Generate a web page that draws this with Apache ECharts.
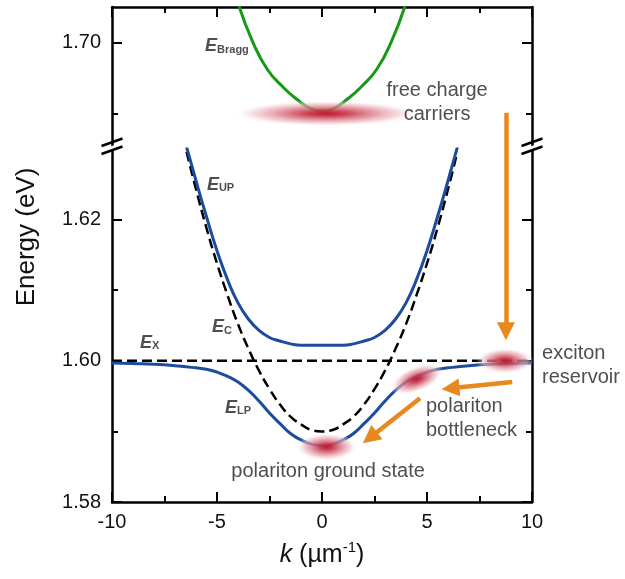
<!DOCTYPE html>
<html><head><meta charset="utf-8">
<script src="https://cdn.jsdelivr.net/npm/echarts@6/dist/echarts.min.js"></script>
<style>html,body{margin:0;padding:0;background:#fff}#c{width:625px;height:579px}</style>
</head><body><div id="c"></div>
<script>
// ---------- data ----------
const lpK = [-10,-9,-8,-7,-6,-5.5,-5,-4.5,-4,-3.5,-3,-2.5,-2,-1.5,-1,-0.5,0,0.5,1,1.5,2,2.5,3,3.5,4,4.5,5,5.5,6,7,8,9,10];
const lpE = [1.5997,1.5996,1.5995,1.5993,1.5990,1.5988,1.5984,1.5978,1.5970,1.5958,1.5943,1.5926,1.5911,1.5897,1.5888,1.5882,1.5880,1.5882,1.5888,1.5897,1.5911,1.5926,1.5943,1.5958,1.5970,1.5978,1.5984,1.5988,1.5990,1.5993,1.5995,1.5996,1.5997];
const cavK = [-6.45,-6,-5.5,-5,-4.5,-4,-3.5,-3,-2.5,-2,-1.5,-1,-0.5,0,0.5,1,1.5,2,2.5,3,3.5,4,4.5,5,5.5,6,6.45];
const upE = [1.6303,1.6255,1.6204,1.6156,1.6115,1.6082,1.6059,1.6043,1.6033,1.6028,1.6024,1.6022,1.6022,1.6022,1.6022,1.6022,1.6024,1.6028,1.6033,1.6043,1.6059,1.6082,1.6115,1.6156,1.6204,1.6255,1.6303];
const cE  = [1.6296,1.6243,1.6188,1.6138,1.6093,1.6052,1.6017,1.5986,1.5960,1.5938,1.5921,1.5910,1.5902,1.5900,1.5902,1.5910,1.5921,1.5938,1.5960,1.5986,1.6017,1.6052,1.6093,1.6138,1.6188,1.6243,1.6296];
const exK = [-10, 10];
const exE = [1.6000, 1.6000];
const braggK = [-3.95,-3.3,-2.6,-1.85,-1.2,-0.6,0,0.6,1.2,1.85,2.6,3.3,3.95];
const braggE = [1.7051,1.7001,1.6962,1.6937,1.6920,1.6908,1.6904,1.6908,1.6920,1.6937,1.6962,1.7001,1.7051];
// population blobs: free carriers (upper panel), exciton reservoir, bottleneck, ground state
const blobUpK = [0.22];
const blobUpE = [1.6900];
const blobLoK = [8.71, 4.51, 0.22];
const blobLoE = [1.6000, 1.5974, 1.5878];
// relaxation arrows [from, to]
const arrowVertK = [8.76, 8.76];
const arrowVertUpE = [1.6901, 1.685];
const arrowVertLoE = [1.6300, 1.6042];
const arrowDiag = [[[9.06,1.5970],[6.12,1.5961]], [[4.67,1.5947],[2.28,1.5891]]];
// axes ticks
const xMin = -10, xMax = 10, xStep = 5;
const yLoMin = 1.58, yLoMax = 1.63, yUpMin = 1.685, yUpMax = 1.705;
const yLoMajor = [1.58, 1.60, 1.62], yLoMinor = [1.59, 1.61];
const yUpMajor = [1.70], yUpMinor = [1.69];

// ---------- styling ----------
const FONT = "'Liberation Sans', Arial, sans-serif";
const AX = '#000';
const BLUE = '#1b4c9e', GREEN = '#169a16', ORANGE = '#e8891f', TXT = '#222';

function yAx(gridIndex, min, max, position, ticks, len, showLine, labels) {
  return {
    type: 'value', gridIndex, min, max, position,
    splitLine: {show: false},
    axisLine: {show: showLine, onZero: false, lineStyle: {color: AX, width: 2.5}},
    axisTick: {show: true, inside: true, length: len, customValues: ticks, lineStyle: {color: AX, width: 2}},
    axisLabel: labels ? {show: true, customValues: labels, formatter: v => v.toFixed(2),
      fontSize: 20, color: '#111', fontFamily: FONT, margin: 11} : {show: false}
  };
}
function xAx(gridIndex, position, labels) {
  const a = {
    type: 'value', gridIndex, min: xMin, max: xMax, interval: xStep, position,
    splitLine: {show: false},
    axisLine: {show: true, onZero: false, lineStyle: {color: AX, width: 2.5}},
    axisTick: {show: true, inside: true, length: 10, lineStyle: {color: AX, width: 2}},
    minorTick: {show: true, splitNumber: 2, length: 6, lineStyle: {color: AX, width: 2}},
    axisLabel: labels ? {show: true, fontSize: 20, color: '#111', fontFamily: FONT, margin: 10} : {show: false}
  };
  if (labels) {
    a.name = '{i|k} (µm{s|-1})';
    a.nameLocation = 'middle';
    a.nameGap = 38;
    a.nameTextStyle = {fontSize: 25, fontFamily: FONT, color: '#111', lineHeight: 30,
      rich: {i: {fontSize: 25, fontStyle: 'italic', fontFamily: FONT, color: '#111', lineHeight: 30},
             s: {fontSize: 15, fontFamily: FONT, color: '#111', verticalAlign: 'top', lineHeight: 18}}};
  }
  return a;
}
const zip = (a, b) => a.map((v, i) => [v, b[i]]);

const blobGrad = new echarts.graphic.RadialGradient(0.5, 0.5, 0.5, [
  {offset: 0, color: 'rgba(190,25,45,1)'},
  {offset: 0.22, color: 'rgba(200,55,75,0.92)'},
  {offset: 0.5, color: 'rgba(220,125,138,0.78)'},
  {offset: 0.75, color: 'rgba(238,190,198,0.6)'},
  {offset: 1, color: 'rgba(255,255,255,0)'}
]);
const blobUpStyle = [{w: 190, h: 26, rot: 0}];
const blobLoStyle = [{w: 58, h: 26, rot: 0}, {w: 56, h: 26, rot: 22}, {w: 62, h: 28, rot: 0}];
function blobRender(styles) {
  return function (params, api) {
    const p = api.coord([api.value(0), api.value(1)]);
    const s = styles[params.dataIndex];
    return {type: 'circle', x: p[0], y: p[1], scaleX: s.w / s.h, scaleY: 1, rotation: s.rot * Math.PI / 180,
      shape: {cx: 0, cy: 0, r: s.h / 2}, style: {fill: blobGrad}};
  };
}

const rich = {
  e: {fontSize: 18, fontWeight: 'bold', fontStyle: 'italic', fontFamily: FONT, color: '#222', lineHeight: 20, verticalAlign: 'bottom'},
  s: {fontSize: 11, fontWeight: 'bold', fontFamily: FONT, color: '#222', lineHeight: 6, verticalAlign: 'bottom'}
};
const txt = {fontSize: 20, fontFamily: FONT, color: TXT, lineHeight: 24};

const lowerLabels = [
  {value: [-5.48, 1.6251], label: {formatter: '{e|E}{s|UP}'}},
  {value: [-8.67, 1.6027], label: {formatter: '{e|E}{s|X}'}},
  {value: [-5.24, 1.6049], label: {formatter: '{e|E}{s|C}'}},
  {value: [-4.62, 1.5935], label: {formatter: '{e|E}{s|LP}'}},
  {value: [10.48, 1.5994], label: Object.assign({formatter: 'exciton\nreservoir', align: 'left'}, txt)},
  {value: [4.95, 1.5918], label: Object.assign({formatter: 'polariton\nbottleneck', align: 'left'}, txt)},
  {value: [0.29, 1.5843], label: Object.assign({formatter: 'polariton ground state', position: 'inside', align: 'center'}, txt)}
];
const upperLabels = [
  {value: [-5.57, 1.6996], label: {formatter: '{e|E}{s|Bragg}'}},
  {value: [5.48, 1.6916], label: Object.assign({formatter: 'free charge\ncarriers', position: 'inside', align: 'center'}, txt)}
];

const option = {
  animation: false,
  backgroundColor: '#fff',
  grid: [
    {left: 112, right: 93, top: 7, height: 142},
    {left: 112, right: 93, top: 149, bottom: 77}
  ],
  xAxis: [xAx(0, 'top', false), xAx(1, 'bottom', true)],
  yAxis: [
    yAx(0, yUpMin, yUpMax, 'left', yUpMajor, 10, true, yUpMajor),
    yAx(0, yUpMin, yUpMax, 'left', yUpMinor, 6, false, null),
    yAx(0, yUpMin, yUpMax, 'right', yUpMajor, 10, true, null),
    yAx(0, yUpMin, yUpMax, 'right', yUpMinor, 6, false, null),
    yAx(1, yLoMin, yLoMax, 'left', yLoMajor, 10, true, yLoMajor),
    yAx(1, yLoMin, yLoMax, 'left', yLoMinor, 6, false, null),
    yAx(1, yLoMin, yLoMax, 'right', yLoMajor, 10, true, null),
    yAx(1, yLoMin, yLoMax, 'right', yLoMinor, 6, false, null)
  ],
  series: [
    {type: 'line', xAxisIndex: 0, yAxisIndex: 0, data: zip(braggK, braggE), smooth: true, symbol: 'none', z: 2,
      lineStyle: {color: GREEN, width: 3}},
    {type: 'line', xAxisIndex: 1, yAxisIndex: 4, data: zip(exK, exE), symbol: 'none', z: 2,
      lineStyle: {color: '#000', width: 2.5, type: [10, 5]}},
    {type: 'line', xAxisIndex: 1, yAxisIndex: 4, data: zip(cavK, cE), smooth: true, symbol: 'none', z: 2,
      lineStyle: {color: '#000', width: 2.5, type: [10, 5]}},
    {type: 'line', xAxisIndex: 1, yAxisIndex: 4, data: zip(cavK, upE), smooth: true, symbol: 'none', z: 2,
      lineStyle: {color: BLUE, width: 3}},
    {type: 'line', xAxisIndex: 1, yAxisIndex: 4, data: zip(lpK, lpE), smooth: true, symbol: 'none', z: 2,
      lineStyle: {color: BLUE, width: 3}},
    {type: 'custom', xAxisIndex: 0, yAxisIndex: 0, data: zip(blobUpK, blobUpE), renderItem: blobRender(blobUpStyle), z: 3},
    {type: 'custom', xAxisIndex: 1, yAxisIndex: 4, data: zip(blobLoK, blobLoE), renderItem: blobRender(blobLoStyle), z: 3},
    {type: 'lines', coordinateSystem: 'cartesian2d', xAxisIndex: 0, yAxisIndex: 0, z: 4, clip: false,
      symbol: ['none', 'none'],
      lineStyle: {color: ORANGE, width: 4.5, opacity: 1, curveness: 0},
      data: [{coords: zip(arrowVertK, arrowVertUpE)}]},
    {type: 'lines', coordinateSystem: 'cartesian2d', xAxisIndex: 1, yAxisIndex: 4, z: 4, clip: false,
      symbol: ['none', 'triangle'], symbolSize: 18,
      lineStyle: {color: ORANGE, width: 4.5, opacity: 1, curveness: 0},
      data: [{coords: zip(arrowVertK, arrowVertLoE)}].concat(arrowDiag.map(c => ({coords: c})))},
    {type: 'scatter', xAxisIndex: 1, yAxisIndex: 4, symbolSize: 0, clip: false, z: 5, silent: true,
      label: {show: true, position: 'right', distance: 0, rich: rich, fontFamily: FONT, color: TXT},
      data: lowerLabels},
    {type: 'scatter', xAxisIndex: 0, yAxisIndex: 0, symbolSize: 0, clip: false, z: 5, silent: true,
      label: {show: true, position: 'right', distance: 0, rich: rich, fontFamily: FONT, color: TXT},
      data: upperLabels}
  ],
  graphic: [
    {type: 'text', x: 27, y: 237, rotation: Math.PI / 2, z: 100,
      style: {text: 'Energy (eV)', font: "26px 'Liberation Sans', Arial, sans-serif", fill: '#111', align: 'center', verticalAlign: 'middle'}},
  ]
};
// axis break marks at both vertical axes
[112, 532].forEach(function (ax) {
  option.graphic.push({type: 'polygon', z: 100, shape: {points: [[ax - 10, 149.5], [ax + 10, 142.5], [ax + 10, 147], [ax - 10, 154]]},
    style: {fill: '#fff'}});
  option.graphic.push({type: 'line', z: 101, shape: {x1: ax - 10.5, y1: 146, x2: ax + 10.5, y2: 138.5}, style: {stroke: '#000', lineWidth: 2.5}});
  option.graphic.push({type: 'line', z: 101, shape: {x1: ax - 10.5, y1: 154, x2: ax + 10.5, y2: 146.5}, style: {stroke: '#000', lineWidth: 2.5}});
});
const chart = echarts.init(document.getElementById('c'), null, {renderer: 'canvas'});
chart.setOption(option);
</script>
</body></html>
